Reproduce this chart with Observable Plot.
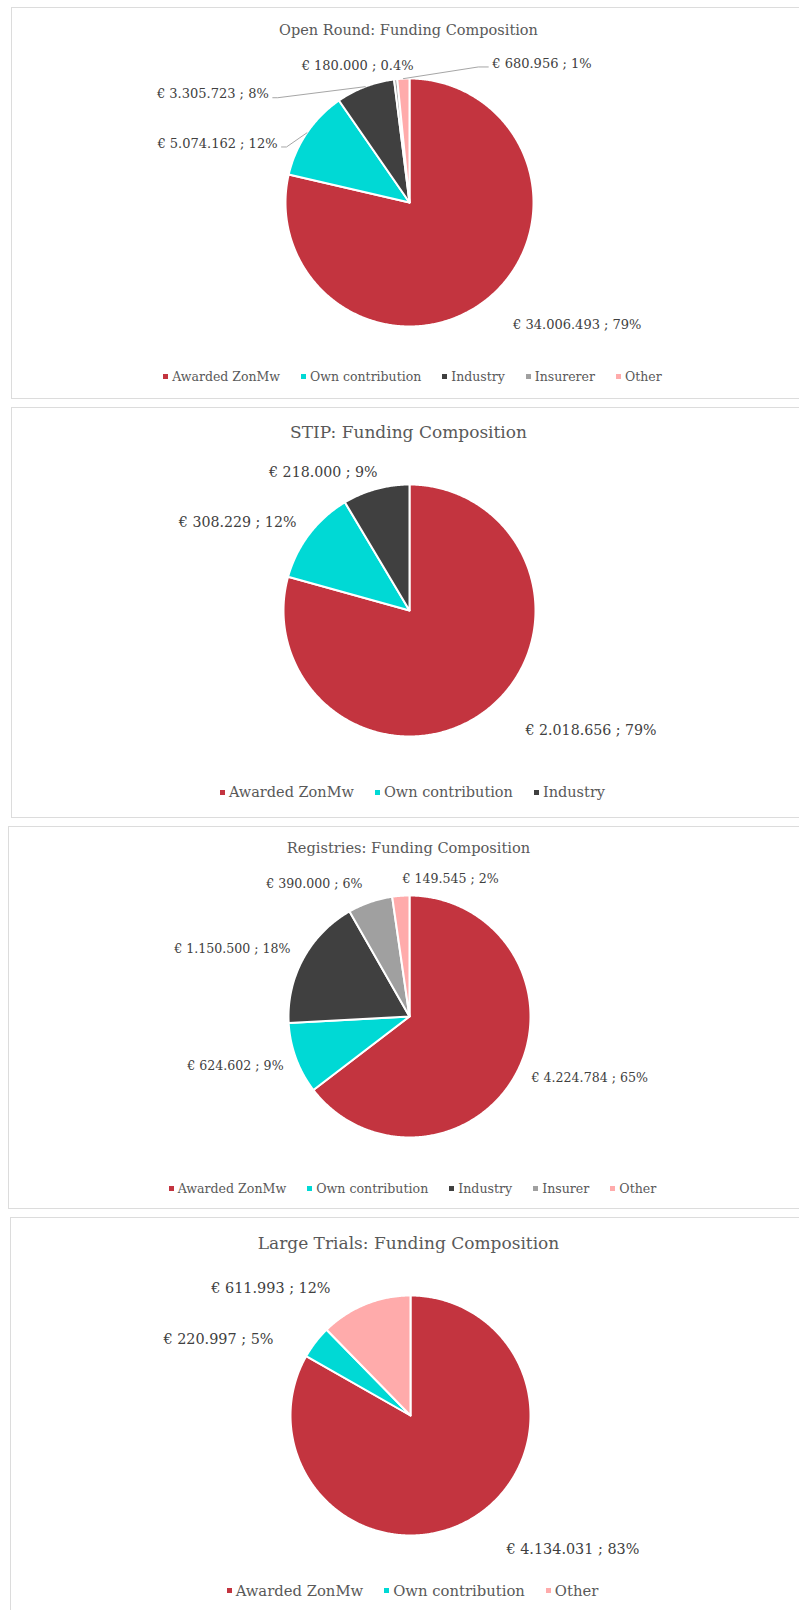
<!DOCTYPE html>
<html>
<head>
<meta charset="utf-8">
<script src="https://cdn.jsdelivr.net/npm/d3@7"></script>
<script src="https://cdn.jsdelivr.net/npm/@observablehq/plot@0.6"></script>
<style>
  html, body { margin: 0; padding: 0; background: #fff; }
  body { width: 799px; height: 1610px; overflow: hidden; position: relative; font-family: "DejaVu Serif", serif; }
  .panel { position: absolute; box-sizing: border-box; border: 1.5px solid #DCDCDC; background: #fff; width: 830px; overflow: hidden; }
  .title { color: #595959; text-align: center; white-space: nowrap; }
  .legend { display: flex; justify-content: center; align-items: center; color: #595959; white-space: nowrap; }
  .item { display: flex; align-items: center; margin: 0 10.5px; }
  .sw { width: 5px; height: 5px; margin-right: 4px; flex: none; }
  svg { display: block; }
</style>
</head>
<body>
<script>
// ---------------- data ----------------
const openCategories = ["Awarded ZonMw", "Own contribution", "Industry", "Insurerer", "Other"];
const openValues = [34006493, 5074162, 3305723, 180000, 680956];
const openPct = ["79%", "12%", "8%", "0.4%", "1%"];

const stipCategories = ["Awarded ZonMw", "Own contribution", "Industry"];
const stipValues = [2018656, 308229, 218000];
const stipPct = ["79%", "12%", "9%"];

const regCategories = ["Awarded ZonMw", "Own contribution", "Industry", "Insurer", "Other"];
const regValues = [4224784, 624602, 1150500, 390000, 149545];
const regPct = ["65%", "9%", "18%", "6%", "2%"];

const largeCategories = ["Awarded ZonMw", "Own contribution", "Other"];
const largeValues = [4134031, 220997, 611993];
const largePct = ["83%", "5%", "12%"];

const titles = [
  "Open Round: Funding Composition",
  "STIP: Funding Composition",
  "Registries: Funding Composition",
  "Large Trials: Funding Composition"
];

// ---------------- styles / layout ----------------
const palette = {
  "Awarded ZonMw": "#C3343F",
  "Own contribution": "#00D9D5",
  "Industry": "#404040",
  "Insurerer": "#A0A0A0",
  "Insurer": "#A0A0A0",
  "Other": "#FFABAB"
};

const locale = d3.formatLocale({decimal: ",", thousands: ".", grouping: [3], currency: ["€ ", ""]});
const fmtEuro = locale.format("$,.0f");

const panels = [
  {title: titles[0], cats: openCategories, vals: openValues, pct: openPct,
   left: 11, top: 7, height: 392, titleH: 44, svgH: 300, legendH: 48, cx: 397, cy: 150, r: 124,
   titleSize: 14.5, labelSize: 13, legendSize: 12.5,
   place: [
     {k: 1.29, turn: -1.9, a: "start"},
     {k: 1.166, turn: -10.1, a: "end", leader: true},
     {k: 1.432, turn: -31.5, a: "end", leader: true},
     {k: 1.105, turn: 8.1, a: "end"},
     {k: 1.305, turn: 33.6, a: "start", leader: true}
   ]},
  {title: titles[1], cats: stipCategories, vals: stipValues, pct: stipPct,
   left: 11, top: 407, height: 411, titleH: 48, svgH: 310, legendH: 52, cx: 397, cy: 154, r: 126,
   titleSize: 17, labelSize: 14.2, legendSize: 14.5,
   place: [
     {k: 1.325, turn: -6.8, a: "start"},
     {k: 1.137, turn: 0.5, a: "end"},
     {k: 1.124, turn: 2.4, a: "end"}
   ]},
  {title: titles[2], cats: regCategories, vals: regValues, pct: regPct,
   left: 8, top: 826, height: 383, titleH: 42, svgH: 300, legendH: 38, cx: 400, cy: 147, r: 121,
   titleSize: 14.6, labelSize: 12.6, legendSize: 12.6,
   place: [
     {k: 1.131, turn: 0.6, a: "start"},
     {k: 1.117, turn: -1.1, a: "end"},
     {k: 1.129, turn: 0.8, a: "end"},
     {k: 1.166, turn: -0.5, a: "end"},
     {k: 1.142, turn: 1.2, a: "start"}
   ]},
  {title: titles[3], cats: largeCategories, vals: largeValues, pct: largePct,
   left: 10, top: 1217, height: 430, titleH: 50, svgH: 300, legendH: 44, cx: 399, cy: 147, r: 120,
   titleSize: 17, labelSize: 14.4, legendSize: 14.8,
   place: [
     {k: 1.374, turn: -5.4, a: "start"},
     {k: 1.306, turn: -8.6, a: "end"},
     {k: 1.251, turn: -10, a: "end"}
   ]}
];

const W = 800;
const rad = (deg) => deg * Math.PI / 180;
const pol = (deg, k) => [k * Math.sin(rad(deg)), -k * Math.cos(rad(deg))];

for (const p of panels) {
  const panel = document.createElement("div");
  panel.className = "panel";
  panel.style.left = p.left + "px";
  panel.style.top = p.top + "px";
  panel.style.height = p.height + "px";
  document.body.appendChild(panel);

  const centerW = 2 * (409 - p.left - 1.5);
  const title = document.createElement("div");
  title.className = "title";
  title.textContent = p.title;
  title.style.width = centerW + "px";
  title.style.height = p.titleH + "px";
  title.style.lineHeight = p.titleH + "px";
  title.style.fontSize = p.titleSize + "px";
  panel.appendChild(title);

  // slices
  const total = d3.sum(p.vals);
  let acc = 0;
  const slices = p.vals.map((v, i) => {
    const a0 = acc / total * 360; acc += v; const a1 = acc / total * 360;
    return {cat: p.cats[i], v, a0, a1, mid: (a0 + a1) / 2, i};
  });
  const pts = [];
  for (const s of slices) {
    pts.push({cat: s.cat, x: 0, y: 0});
    const n = Math.max(2, Math.ceil((s.a1 - s.a0) / 0.5));
    for (let j = 0; j <= n; j++) {
      const [x, y] = pol(s.a0 + (s.a1 - s.a0) * j / n, 1);
      pts.push({cat: s.cat, x, y});
    }
  }

  const labels = slices.map((s) => {
    const pl = p.place[s.i];
    const [x, y] = pol(s.mid + pl.turn, pl.k);
    return {cat: s.cat, x, y, anchor: pl.a, leader: !!pl.leader, mid: s.mid,
            text: fmtEuro(s.v) + " ; " + p.pct[s.i]};
  });

  const leaderPts = [];
  for (const d of labels.filter((d) => d.leader)) {
    const side = d.anchor === "end" ? 1 : -1;
    const [ex, ey] = pol(d.mid, 1);
    leaderPts.push({cat: d.cat, x: ex, y: ey});
    leaderPts.push({cat: d.cat, x: d.x + side * (side > 0 ? 9 : 14) / p.r, y: d.y + 3.5 / p.r});
    leaderPts.push({cat: d.cat, x: d.x + side * 4 / p.r, y: d.y + 3.5 / p.r});
  }

  const chart = Plot.plot({
    width: W,
    height: p.svgH,
    margin: 0,
    style: {fontFamily: "'DejaVu Serif', serif", background: "transparent", overflow: "visible"},
    x: {domain: [-p.cx / p.r, (W - p.cx) / p.r], range: [0, W], axis: null},
    y: {domain: [-p.cy / p.r, (p.svgH - p.cy) / p.r], range: [0, p.svgH], axis: null},
    color: {domain: p.cats, range: p.cats.map((c) => palette[c])},
    marks: [
      Plot.line(pts, {x: "x", y: "y", z: "cat", fill: "cat", stroke: "#ffffff", strokeWidth: 2,
                      strokeLinejoin: "round", curve: "linear-closed"}),
      Plot.line(leaderPts, {x: "x", y: "y", z: "cat", stroke: "#A6A6A6", strokeWidth: 1}),
      Plot.text(labels.filter((d) => d.anchor === "start"),
                {x: "x", y: "y", text: "text", textAnchor: "start", fontSize: p.labelSize, fill: "#404040"}),
      Plot.text(labels.filter((d) => d.anchor === "end"),
                {x: "x", y: "y", text: "text", textAnchor: "end", fontSize: p.labelSize, fill: "#404040"})
    ]
  });
  panel.appendChild(chart);

  const legend = document.createElement("div");
  legend.className = "legend";
  legend.style.width = (2 * (413 - p.left - 1.5)) + "px";
  legend.style.height = p.legendH + "px";
  legend.style.fontSize = p.legendSize + "px";
  for (const c of p.cats) {
    const item = document.createElement("div");
    item.className = "item";
    const sw = document.createElement("span");
    sw.className = "sw";
    sw.style.background = palette[c];
    const t = document.createElement("span");
    t.textContent = c;
    item.appendChild(sw);
    item.appendChild(t);
    legend.appendChild(item);
  }
  panel.appendChild(legend);
}
</script>
</body>
</html>
